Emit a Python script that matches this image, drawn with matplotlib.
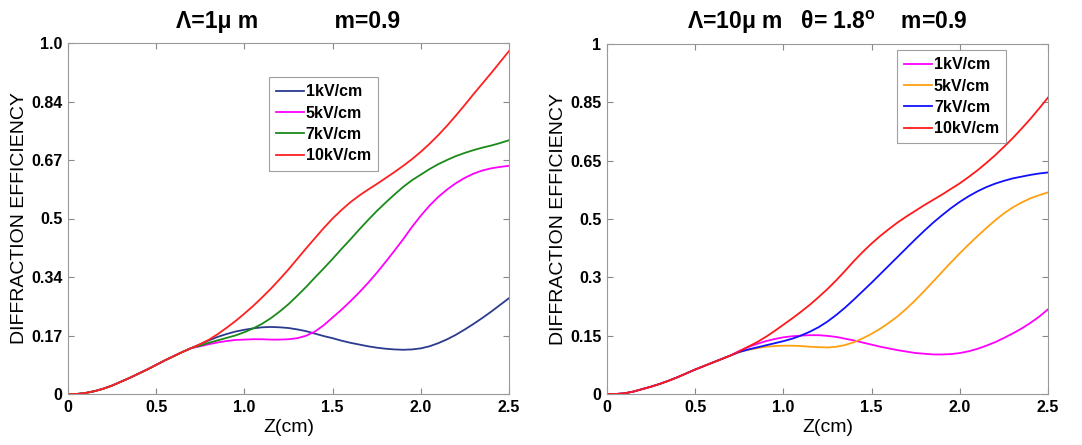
import matplotlib
matplotlib.use("Agg")
import matplotlib.pyplot as plt
import numpy as np

plt.rcParams['font.family'] = ['Liberation Sans', 'DejaVu Sans']

# Z positions (cm), every 0.05
z = np.round(np.arange(0, 2.501, 0.05), 2)

# left panel: Lambda = 1 um (common start up to z = 0.7)
base_l = [0.0, 0.0, 0.003, 0.008, 0.015, 0.024, 0.035, 0.046, 0.058, 0.07,
          0.083, 0.096, 0.108, 0.12, 0.131]
l_1kv = base_l + [0.142, 0.153, 0.163, 0.171, 0.178, 0.183, 0.187, 0.19, 0.191, 0.19,
                  0.188, 0.184, 0.179, 0.172, 0.165, 0.159, 0.152, 0.146, 0.141, 0.136,
                  0.132, 0.129, 0.127, 0.126, 0.127, 0.13, 0.136, 0.145, 0.156, 0.169,
                  0.184, 0.2, 0.217, 0.235, 0.254, 0.273]
l_5kv = base_l + [0.136, 0.142, 0.147, 0.151, 0.154, 0.155, 0.156, 0.156, 0.155, 0.155,
                  0.156, 0.159, 0.166, 0.178, 0.196, 0.218, 0.24, 0.264, 0.289, 0.316,
                  0.345, 0.376, 0.408, 0.441, 0.476, 0.508, 0.537, 0.562, 0.583, 0.601,
                  0.616, 0.628, 0.637, 0.643, 0.647, 0.65]
l_7kv = base_l + [0.138, 0.146, 0.153, 0.16, 0.167, 0.176, 0.187, 0.2, 0.216, 0.235,
                  0.256, 0.28, 0.305, 0.332, 0.358, 0.385, 0.413, 0.44, 0.468, 0.495,
                  0.521, 0.545, 0.568, 0.59, 0.609, 0.625, 0.641, 0.655, 0.667, 0.678,
                  0.687, 0.695, 0.702, 0.708, 0.715, 0.723]
l_10kv = base_l + [0.142, 0.155, 0.171, 0.189, 0.208, 0.229, 0.251, 0.275, 0.3, 0.327,
                   0.355, 0.385, 0.415, 0.444, 0.473, 0.5, 0.524, 0.546, 0.565, 0.582,
                   0.598, 0.615, 0.632, 0.65, 0.669, 0.69, 0.713, 0.738, 0.765, 0.794,
                   0.824, 0.855, 0.885, 0.915, 0.946, 0.977]

# right panel: Lambda = 10 um
base_r = [0.0, 0.0, 0.002, 0.007, 0.014, 0.021, 0.029, 0.038, 0.048, 0.059,
          0.07, 0.08, 0.09, 0.1, 0.11]
r_1kv = base_r + [0.123, 0.134, 0.143, 0.151, 0.157, 0.162, 0.165, 0.167, 0.168, 0.168,
                  0.166, 0.163, 0.158, 0.153, 0.147, 0.141, 0.135, 0.13, 0.125, 0.121,
                  0.117, 0.115, 0.113, 0.113, 0.114, 0.117, 0.122, 0.129, 0.138, 0.148,
                  0.16, 0.173, 0.187, 0.203, 0.221, 0.242]
r_5kv = base_r + [0.12, 0.126, 0.131, 0.135, 0.137, 0.138, 0.138, 0.137, 0.135, 0.134,
                  0.133, 0.135, 0.14, 0.148, 0.159, 0.172, 0.187, 0.204, 0.223, 0.245,
                  0.269, 0.295, 0.322, 0.349, 0.376, 0.402, 0.427, 0.451, 0.474, 0.496,
                  0.516, 0.533, 0.547, 0.559, 0.568, 0.576]
r_7kv = base_r + [0.12, 0.127, 0.133, 0.139, 0.145, 0.151, 0.158, 0.167, 0.178, 0.191,
                  0.207, 0.226, 0.247, 0.27, 0.294, 0.318, 0.343, 0.368, 0.393, 0.418,
                  0.443, 0.467, 0.49, 0.511, 0.531, 0.549, 0.565, 0.579, 0.591, 0.601,
                  0.609, 0.616, 0.621, 0.626, 0.63, 0.633]
r_10kv = base_r + [0.122, 0.135, 0.148, 0.163, 0.18, 0.198, 0.216, 0.235, 0.255, 0.277,
                   0.3, 0.325, 0.352, 0.38, 0.406, 0.43, 0.452, 0.472, 0.491, 0.508,
                   0.524, 0.54, 0.555, 0.57, 0.586, 0.602, 0.62, 0.639, 0.66, 0.682,
                   0.706, 0.731, 0.758, 0.786, 0.816, 0.847]

labels = ['1kV/cm', '5kV/cm', '7kV/cm', '10kV/cm']
colors_l = ['#2a3b8f', '#ff00ff', '#1a8a1a', '#ff2020']
colors_r = ['#ff00ff', '#ffa010', '#1010ff', '#ff1a1a']

xticks = [0, 0.5, 1.0, 1.5, 2.0, 2.5]
xticklabels = ['0', '0.5', '1.0', '1.5', '2.0', '2.5']
yticklabels_l = ['0', '0.17', '0.34', '0.5', '0.67', '0.84', '1.0']
yticklabels_r = ['0', '0.15', '0.3', '0.5', '0.65', '0.85', '1']

fig = plt.figure(figsize=(10.82, 4.45), dpi=100)
ax1 = fig.add_axes([68 / 1082, 51 / 445, 441 / 1082, 351 / 445])
ax2 = fig.add_axes([607 / 1082, 51 / 445, 441 / 1082, 350 / 445])


def style(ax, series, colors, yticklabels, title, leg_anchor):
    for y, c, lab in zip(series, colors, labels):
        ax.plot(z, y, color=c, lw=1.3, label=lab)
    ax.set_xlim(0, 2.5)
    ax.set_ylim(0, 1)
    ax.set_xticks(xticks)
    ax.set_xticklabels(xticklabels, fontweight='bold', fontsize=11.5)
    ax.set_yticks(np.linspace(0, 1, 7))
    ax.set_yticklabels(yticklabels, fontweight='bold', fontsize=11.5)
    ax.tick_params(direction='in', top=True, right=True, length=4, color='#888888', pad=4)
    for s in ax.spines.values():
        s.set_color('#999999')
        s.set_linewidth(0.8)
    ax.set_xlabel('Z(cm)', fontsize=14, labelpad=3)
    ax.set_ylabel('DIFFRACTION EFFICIENCY', fontsize=14, labelpad=2)
    ax.set_title(title, fontsize=16.5, fontweight='bold', pad=11)
    leg = ax.legend(loc='upper left', bbox_to_anchor=leg_anchor, fancybox=False,
                    edgecolor='#888888', prop={'weight': 'bold', 'size': 11.5},
                    handlelength=1.75, handletextpad=0.1, labelspacing=0.4,
                    borderpad=0.45, borderaxespad=0)
    leg.get_frame().set_linewidth(0.8)


style(ax1, [l_1kv, l_5kv, l_7kv, l_10kv], colors_l, yticklabels_l,
      'Λ=1μ m            m=0.9', (0.456, 0.903))
style(ax2, [r_1kv, r_5kv, r_7kv, r_10kv], colors_r, yticklabels_r,
      'Λ=10μ m   θ= 1.8$^\\mathregular{o}$    m=0.9', (0.658, 0.983))

fig.savefig('out.png', dpi=100)
